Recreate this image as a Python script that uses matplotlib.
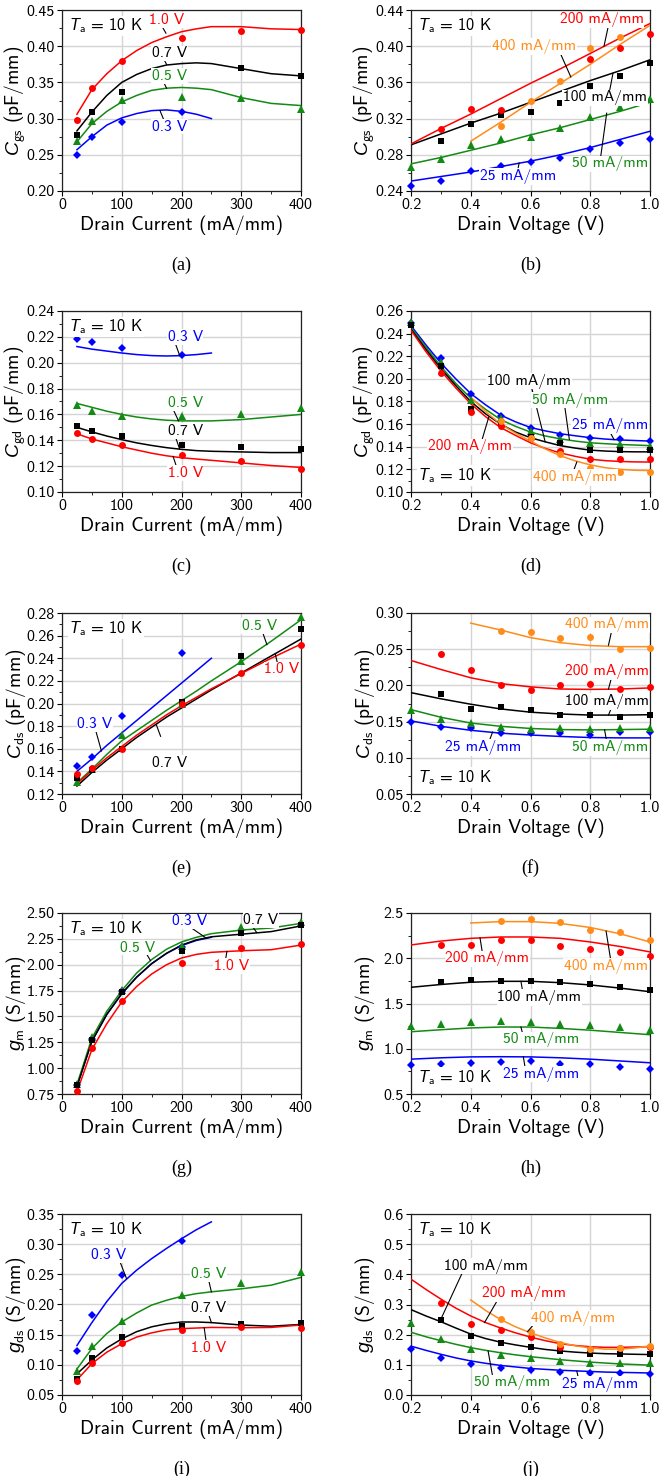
import numpy as np
import matplotlib
matplotlib.use('Agg')
import matplotlib.pyplot as plt
from matplotlib.ticker import MultipleLocator, AutoMinorLocator, FormatStrFormatter

# Computer Modern sans for text, sans italic for the symbols
plt.rcParams['font.family'] = 'cmss10'
plt.rcParams['mathtext.fontset'] = 'custom'
plt.rcParams['mathtext.rm'] = 'cmss10'
plt.rcParams['mathtext.it'] = 'Liberation Sans:italic'
plt.rcParams['axes.formatter.use_mathtext'] = True
plt.rcParams['axes.unicode_minus'] = False

RED = '#ff0000'
BLACK = '#000000'
GREEN = '#138a13'
BLUE = '#0000ff'
ORANGE = '#ff8c1a'

# ---------------- measured points ----------------
# drain current sweeps (mA/mm); 0.3 V only goes to 200 mA/mm
I_pts = [25, 50, 100, 200, 300, 400]
# drain voltage sweeps (V)
V_pts = [0.2, 0.3, 0.4, 0.5, 0.6, 0.7, 0.8, 0.9, 1.0]
nan = np.nan

# (a) Cgs vs current
a_03 = [0.250, 0.275, 0.295, 0.309, nan, nan]
a_05 = [0.269, 0.297, 0.326, 0.330, 0.328, 0.313]
a_07 = [0.277, 0.309, 0.337, nan, 0.370, 0.359]
a_10 = [0.298, 0.342, 0.380, 0.412, 0.421, 0.422]
# (b) Cgs vs voltage
b_25 = [0.246, 0.251, 0.262, 0.268, 0.272, 0.277, 0.286, 0.293, 0.298]
b_50 = [0.267, 0.275, 0.291, 0.298, 0.300, 0.310, 0.322, 0.333, 0.342]
b_100 = [nan, 0.295, 0.314, 0.324, 0.327, 0.337, 0.356, 0.367, 0.381]
b_200 = [nan, 0.309, 0.331, 0.330, nan, nan, 0.386, 0.398, 0.413]
b_400 = [nan, nan, nan, 0.312, 0.339, 0.361, 0.398, 0.410, nan]
# (c) Cgd vs current
c_03 = [0.2186, 0.216, 0.211, 0.206, nan, nan]
c_05 = [0.1674, 0.163, 0.159, 0.159, 0.160, 0.165]
c_07 = [0.151, 0.147, 0.143, 0.136, 0.135, 0.133]
c_10 = [0.146, 0.141, 0.136, 0.129, 0.124, 0.118]
# (d) Cgd vs voltage
d_25 = [0.2496, 0.2185, 0.1864, 0.1668, 0.1564, 0.1505, 0.1478, 0.1467, 0.1452]
d_50 = [0.250, 0.215, 0.181, 0.165, 0.154, 0.147, 0.143, 0.142, 0.141]
d_100 = [0.248, 0.211, 0.173, 0.161, 0.149, 0.143, 0.137, 0.137, 0.137]
d_200 = [nan, 0.2055, 0.1704, 0.158, 0.148, 0.136, 0.129, 0.129, 0.129]
d_400 = [nan, nan, nan, 0.1624, 0.148, 0.134, 0.121, 0.118, 0.118]
# (e) Cds vs current
e_03 = [0.1444, 0.1525, 0.1887, 0.2447, nan, nan]
e_05 = [0.131, 0.142, 0.172, 0.200, 0.2378, 0.2761]
e_07 = [0.134, 0.141, 0.160, 0.2013, 0.242, 0.2656]
e_10 = [0.1375, 0.1434, 0.1594, 0.1992, 0.2267, 0.2519]
# (f) Cds vs voltage
f_25 = [0.150, 0.1431, 0.1407, 0.1347, 0.1337, 0.1337, 0.1314, 0.1361, 0.1361]
f_50 = [0.1665, 0.1534, 0.1478, 0.1422, 0.1398, 0.1407, 0.1398, 0.1407, 0.1417]
f_100 = [nan, 0.1876, 0.1679, 0.1707, 0.1665, 0.1585, 0.1595, 0.1562, 0.1585]
f_200 = [nan, 0.2438, 0.2213, 0.2002, 0.1932, 0.2002, 0.2016, 0.1946, 0.1979]
f_400 = [nan, nan, nan, 0.2756, 0.2733, 0.2658, 0.2672, 0.2499, 0.2518]
# (g) gm vs current
g_03 = [0.84, 1.28, 1.75, 2.167, nan, nan]
g_05 = [0.85, 1.303, 1.757, 2.184, 2.363, 2.409]
g_07 = [0.84, 1.271, 1.740, 2.132, 2.311, 2.386]
g_10 = [0.78, 1.196, 1.646, 2.017, 2.158, 2.197]
# (h) gm vs voltage
h_25 = [0.822, 0.830, 0.841, 0.852, 0.860, 0.833, 0.830, 0.795, 0.773]
h_50 = [1.255, 1.274, 1.300, 1.311, 1.300, 1.274, 1.266, 1.244, 1.206]
h_100 = [nan, 1.742, 1.761, 1.754, 1.750, 1.742, 1.716, 1.679, 1.649]
h_200 = [nan, 2.147, 2.147, 2.199, 2.199, 2.135, 2.098, 2.071, 2.022]
h_400 = [nan, nan, nan, 2.410, 2.436, 2.399, 2.316, 2.286, 2.204]
# (i) gds vs current
i_03 = [0.1227, 0.1831, 0.2494, 0.3058, nan, nan]
i_05 = [0.090, 0.1312, 0.1727, 0.215, 0.2357, 0.2539]
i_07 = [0.0773, 0.1117, 0.1455, 0.1636, 0.1675, 0.1688]
i_10 = [0.0727, 0.1032, 0.137, 0.1584, 0.163, 0.161]
# (j) gds vs voltage
j_25 = [0.151, 0.123, 0.103, 0.089, 0.083, 0.077, 0.074, 0.072, 0.069]
j_50 = [0.238, 0.185, 0.151, 0.134, 0.123, 0.112, 0.106, 0.106, 0.105]
j_100 = [nan, 0.250, 0.197, 0.171, 0.160, 0.145, 0.137, 0.137, 0.137]
j_200 = [nan, 0.306, 0.237, 0.215, 0.192, 0.160, 0.152, 0.157, 0.160]
j_400 = [nan, nan, nan, 0.253, 0.210, 0.168, 0.151, 0.157, 0.161]

# ---------------- fitted curves ----------------
I_fit = [25, 50, 75, 100, 125, 150, 175, 200, 225, 250, 300, 350, 400]
V_fit = [0.2, 0.3, 0.4, 0.5, 0.6, 0.7, 0.8, 0.9, 1.0]
V_fit2 = [0.2, 0.25, 0.3, 0.35, 0.4, 0.45, 0.5, 0.55, 0.6, 0.65, 0.7,
          0.75, 0.8, 0.85, 0.9, 0.95, 1.0]

a_03_fit = [0.257, 0.275, 0.291, 0.301, 0.307, 0.311, 0.312, 0.310, 0.306, 0.300, nan, nan, nan]
a_05_fit = [0.268, 0.293, 0.310, 0.323, 0.332, 0.339, 0.342, 0.343, 0.342, 0.340, 0.329, 0.321, 0.318]
a_07_fit = [0.283, 0.309, 0.332, 0.350, 0.361, 0.369, 0.374, 0.376, 0.377, 0.376, 0.369, 0.362, 0.359]
a_10_fit = [0.306, 0.340, 0.362, 0.380, 0.394, 0.405, 0.413, 0.420, 0.424, 0.427, 0.427, 0.424, 0.423]

b_25_fit = [0.251, 0.256, 0.261, 0.267, 0.273, 0.280, 0.288, 0.297, 0.306]
b_50_fit = [0.270, 0.277, 0.285, 0.293, 0.302, 0.310, 0.319, 0.328, 0.338]
b_100_fit = [0.291, 0.303, 0.315, 0.326, 0.338, 0.350, 0.362, 0.373, 0.385]
b_200_fit = [0.292, 0.309, 0.325, 0.342, 0.359, 0.375, 0.392, 0.409, 0.425]
b_400_fit = [nan, nan, 0.295, 0.316, 0.338, 0.359, 0.380, 0.402, 0.423]

c_03_fit = [0.2125, 0.2105, 0.209, 0.2075, 0.2063, 0.2055, 0.2052, 0.2055, 0.2063, 0.2075, nan, nan, nan]
c_05_fit = [0.1685, 0.1655, 0.1625, 0.160, 0.158, 0.1565, 0.1555, 0.155, 0.155, 0.155, 0.156, 0.158, 0.160]
c_07_fit = [0.150, 0.1465, 0.1433, 0.1405, 0.138, 0.136, 0.1343, 0.133, 0.132, 0.1315, 0.131, 0.1305, 0.1305]
c_10_fit = [0.145, 0.141, 0.138, 0.135, 0.1325, 0.130, 0.128, 0.1265, 0.1255, 0.1245, 0.1225, 0.1205, 0.119]

d_25_fit = [0.247, 0.230, 0.214, 0.200, 0.187, 0.177, 0.168, 0.162, 0.157, 0.154, 0.1515,
            0.1497, 0.148, 0.1468, 0.146, 0.1455, 0.145]
d_50_fit = [0.2455, 0.228, 0.211, 0.196, 0.183, 0.173, 0.164, 0.158, 0.153, 0.1495, 0.147,
            0.145, 0.1435, 0.1427, 0.142, 0.1415, 0.141]
d_100_fit = [0.244, 0.226, 0.209, 0.194, 0.180, 0.169, 0.160, 0.153, 0.148, 0.1443, 0.141,
             0.1388, 0.137, 0.1362, 0.1357, 0.1355, 0.1355]
d_200_fit = [0.243, 0.224, 0.207, 0.192, 0.178, 0.1665, 0.157, 0.150, 0.1435, 0.1385, 0.1345,
             0.1315, 0.129, 0.1277, 0.127, 0.1266, 0.1265]
d_400_fit = [nan, nan, nan, nan, 0.184, 0.171, 0.160, 0.152, 0.145, 0.138, 0.132,
             0.1275, 0.124, 0.1215, 0.120, 0.1192, 0.119]

e_03_fit = [0.140, 0.151, 0.163, 0.174, 0.185, 0.196, 0.207, 0.218, 0.229, 0.240, nan, nan, nan]
e_05_fit = [0.130, 0.142, 0.155, 0.167, 0.176, 0.185, 0.194, 0.2025, 0.211, 0.220, 0.237, 0.255, 0.274]
e_07_fit = [0.127, 0.139, 0.150, 0.160, 0.170, 0.179, 0.188, 0.196, 0.204, 0.212, 0.227, 0.242, 0.257]
e_10_fit = [0.129, 0.141, 0.152, 0.162, 0.172, 0.181, 0.190, 0.198, 0.2055, 0.213, 0.2265, 0.240, 0.2525]

f_25_fit = [0.151, 0.1435, 0.138, 0.134, 0.1315, 0.1295, 0.128, 0.1275, 0.1275]
f_50_fit = [0.1665, 0.156, 0.148, 0.1435, 0.1405, 0.139, 0.1385, 0.139, 0.1395]
f_100_fit = [0.190, 0.1815, 0.174, 0.1675, 0.163, 0.1605, 0.159, 0.159, 0.1595]
f_200_fit = [0.2344, 0.222, 0.2105, 0.2025, 0.198, 0.195, 0.1945, 0.195, 0.1965]
f_400_fit = [nan, nan, 0.286, 0.2765, 0.266, 0.259, 0.255, 0.2535, 0.2535]

g_03_fit = [0.83, 1.26, 1.52, 1.72, 1.88, 2.01, 2.11, 2.185, 2.235, 2.265, nan, nan, nan]
g_05_fit = [0.84, 1.29, 1.55, 1.75, 1.92, 2.05, 2.15, 2.22, 2.265, 2.30, 2.335, 2.355, 2.40]
g_07_fit = [0.82, 1.26, 1.52, 1.72, 1.88, 2.01, 2.11, 2.19, 2.24, 2.27, 2.295, 2.32, 2.375]
g_10_fit = [0.77, 1.18, 1.43, 1.64, 1.79, 1.91, 2.00, 2.065, 2.10, 2.12, 2.135, 2.145, 2.19]

h_25_fit = [0.885, 0.900, 0.910, 0.912, 0.910, 0.900, 0.885, 0.865, 0.845]
h_50_fit = [1.188, 1.21, 1.23, 1.24, 1.24, 1.225, 1.205, 1.18, 1.155]
h_100_fit = [1.679, 1.71, 1.735, 1.745, 1.745, 1.73, 1.705, 1.67, 1.63]
h_200_fit = [2.147, 2.19, 2.22, 2.235, 2.235, 2.22, 2.18, 2.13, 2.07]
h_400_fit = [nan, nan, 2.39, 2.405, 2.405, 2.385, 2.34, 2.27, 2.18]

i_03_fit = [0.132, 0.170, 0.205, 0.235, 0.257, 0.276, 0.293, 0.309, 0.324, 0.337, nan, nan, nan]
i_05_fit = [0.093, 0.127, 0.152, 0.171, 0.186, 0.199, 0.207, 0.2135, 0.218, 0.221, 0.226, 0.232, 0.245]
i_07_fit = [0.085, 0.108, 0.128, 0.143, 0.155, 0.163, 0.168, 0.171, 0.171, 0.170, 0.166, 0.164, 0.167]
i_10_fit = [0.075, 0.102, 0.121, 0.135, 0.146, 0.153, 0.158, 0.160, 0.161, 0.162, 0.1615, 0.162, 0.166]

j_25_fit = [0.162, 0.148, 0.135, 0.123, 0.113, 0.105, 0.098, 0.093, 0.088, 0.085, 0.082,
            0.080, 0.078, 0.076, 0.075, 0.074, 0.073]
j_50_fit = [0.208, 0.193, 0.180, 0.168, 0.157, 0.148, 0.140, 0.133, 0.127, 0.122, 0.117,
            0.113, 0.109, 0.106, 0.103, 0.101, 0.099]
j_100_fit = [0.283, 0.262, 0.243, 0.222, 0.202, 0.187, 0.175, 0.166, 0.158, 0.151, 0.146,
             0.142, 0.139, 0.137, 0.136, 0.135, 0.134]
j_200_fit = [0.384, 0.350, 0.318, 0.288, 0.262, 0.240, 0.222, 0.206, 0.192, 0.180, 0.170,
             0.164, 0.160, 0.158, 0.158, 0.159, 0.160]
j_400_fit = [nan, nan, nan, nan, 0.315, 0.280, 0.250, 0.226, 0.206, 0.189, 0.174,
             0.163, 0.156, 0.152, 0.152, 0.156, 0.163]

# colour, marker, size per series
STY_I = [(BLUE, 'D', 4.3), (GREEN, '^', 5.2), (BLACK, 's', 4.6), (RED, 'o', 5.0)]
STY_V = [(BLUE, 'D', 4.3), (GREEN, '^', 5.2), (BLACK, 's', 4.6), (RED, 'o', 5.0), (ORANGE, 'o', 5.0)]

TICK_FS = 11.5
LABEL_FS = 14
NOTE_FS = 11.2

W, H = 660, 1476
fig = plt.figure(figsize=(W / 100, H / 100), dpi=100)
fig.patch.set_facecolor('white')

AX_W, AX_H = 239, 181
LEFTS = [62, 411]
TOPS = [10, 311, 613, 913, 1214]


def make_axes(col, row):
    left, top = LEFTS[col], TOPS[row]
    return fig.add_axes([left / W, 1 - (top + AX_H) / H, AX_W / W, AX_H / H])


def setup(ax, ylim, ystep, yfmt, ylabel, current):
    if current:
        ax.set_xlim(0, 400)
        ax.xaxis.set_major_locator(MultipleLocator(100))
        ax.xaxis.set_major_formatter(FormatStrFormatter('%d'))
        ax.set_xlabel('Drain Current (mA/mm)', fontsize=LABEL_FS, labelpad=2)
    else:
        ax.set_xlim(0.2, 1.0)
        ax.xaxis.set_major_locator(MultipleLocator(0.2))
        ax.xaxis.set_major_formatter(FormatStrFormatter('%.1f'))
        ax.set_xlabel('Drain Voltage (V)', fontsize=LABEL_FS, labelpad=2)
    ax.set_ylim(*ylim)
    ax.yaxis.set_major_locator(MultipleLocator(ystep))
    ax.yaxis.set_major_formatter(FormatStrFormatter(yfmt))
    ax.xaxis.set_minor_locator(AutoMinorLocator(2))
    ax.yaxis.set_minor_locator(AutoMinorLocator(2))
    ax.tick_params(which='both', direction='out', labelsize=TICK_FS, top=False, right=False)
    ax.tick_params(which='major', length=3.5, width=0.8, pad=1.8)
    ax.tick_params(which='minor', length=2, width=0.6)
    ax.grid(True, which='major', color='#d4d4d4', linewidth=1.0)
    ax.set_axisbelow(True)
    for sp in ax.spines.values():
        sp.set_linewidth(0.9)
        sp.set_color('#222222')
    ax.set_ylabel(ylabel, fontsize=LABEL_FS)
    # right edge of the rotated label sits just left of the tick labels
    ax.yaxis.set_label_coords(-34 / AX_W, 0.5)


def draw(ax, x_pts, series, x_fit, fits, styles):
    for y, yf, (c, m, ms) in zip(series, fits, styles):
        ax.plot(x_fit, yf, '-', color=c, linewidth=1.1, zorder=3)
        ax.plot(x_pts, y, m, color=c, markersize=ms, markeredgewidth=0, zorder=4, clip_on=False)


def label(ax, text, color, tx, ty, p0, p1):
    ax.plot([p0[0], p1[0]], [p0[1], p1[1]], '-', color='black', linewidth=0.8, zorder=5)
    ax.text(tx, ty, text, color=color, fontsize=NOTE_FS, ha='center', va='center', zorder=6,
            bbox=dict(facecolor='white', edgecolor='none', pad=0.6))


def temp(ax, bottom=False):
    if bottom:
        ax.text(0.03, 0.04, r'$T_\mathrm{a}$ = 10 K', transform=ax.transAxes, fontsize=11.8,
                ha='left', va='bottom', zorder=6,
                bbox=dict(facecolor='white', edgecolor='none', pad=0.6))
    else:
        ax.text(0.03, 0.965, r'$T_\mathrm{a}$ = 10 K', transform=ax.transAxes, fontsize=11.8,
                ha='left', va='top', zorder=6,
                bbox=dict(facecolor='white', edgecolor='none', pad=0.6))


def caption(col, row, text):
    x = (LEFTS[col] + AX_W / 2) / W
    y = 1 - (TOPS[row] + AX_H + 74) / H
    fig.text(x, y, text, family='Liberation Serif', fontsize=13, ha='center', va='center')


# (a)
ax = make_axes(0, 0)
setup(ax, (0.20, 0.45), 0.05, '%.2f', r'$C_\mathrm{gs}$ (pF/mm)', True)
draw(ax, I_pts, [a_03, a_05, a_07, a_10], I_fit, [a_03_fit, a_05_fit, a_07_fit, a_10_fit], STY_I)
label(ax, '1.0 V', RED, 175, 0.436, (167, 0.428), (174, 0.418))
label(ax, '0.7 V', BLACK, 180, 0.390, (169, 0.384), (175, 0.375))
label(ax, '0.5 V', GREEN, 180, 0.359, (169, 0.352), (175, 0.342))
label(ax, '0.3 V', BLUE, 180, 0.289, (171, 0.297), (164, 0.311))
temp(ax)
caption(0, 0, '(a)')

# (b)
ax = make_axes(1, 0)
setup(ax, (0.24, 0.44), 0.04, '%.2f', r'$C_\mathrm{gs}$ (pF/mm)', False)
draw(ax, V_pts, [b_25, b_50, b_100, b_200, b_400], V_fit,
     [b_25_fit, b_50_fit, b_100_fit, b_200_fit, b_400_fit], STY_V)
label(ax, '200 mA/mm', RED, 0.838, 0.429, (0.861, 0.423), (0.846, 0.400))
label(ax, '400 mA/mm', ORANGE, 0.612, 0.3995, (0.70, 0.392), (0.735, 0.366))
label(ax, '100 mA/mm', BLACK, 0.85, 0.343, (0.865, 0.351), (0.876, 0.370))
label(ax, '50 mA/mm', GREEN, 0.866, 0.270, (0.835, 0.278), (0.855, 0.326))
label(ax, '25 mA/mm', BLUE, 0.559, 0.256, (0.556, 0.261), (0.562, 0.271))
temp(ax)
caption(1, 0, '(b)')

# (c)
ax = make_axes(0, 1)
setup(ax, (0.10, 0.24), 0.02, '%.2f', r'$C_\mathrm{gd}$ (pF/mm)', True)
draw(ax, I_pts, [c_03, c_05, c_07, c_10], I_fit, [c_03_fit, c_05_fit, c_07_fit, c_10_fit], STY_I)
label(ax, '0.3 V', BLUE, 206, 0.220, (190, 0.2145), (197, 0.2055))
label(ax, '0.5 V', GREEN, 206, 0.1685, (187, 0.163), (195, 0.155))
label(ax, '0.7 V', BLACK, 206, 0.147, (190, 0.1425), (197, 0.133))
label(ax, '1.0 V', RED, 206, 0.1147, (192, 0.119), (186, 0.1275))
temp(ax)
caption(0, 1, '(c)')

# (d)
ax = make_axes(1, 1)
setup(ax, (0.10, 0.26), 0.02, '%.2f', r'$C_\mathrm{gd}$ (pF/mm)', False)
draw(ax, V_pts, [d_25, d_50, d_100, d_200, d_400], V_fit2,
     [d_25_fit, d_50_fit, d_100_fit, d_200_fit, d_400_fit], STY_V)
label(ax, '100 mA/mm', BLACK, 0.595, 0.198, (0.604, 0.192), (0.649, 0.1445))
label(ax, '50 mA/mm', GREEN, 0.732, 0.1813, (0.715, 0.175), (0.73, 0.1465))
label(ax, '25 mA/mm', BLUE, 0.866, 0.159, (0.866, 0.153), (0.88, 0.1462))
label(ax, '200 mA/mm', RED, 0.398, 0.1398, (0.436, 0.1446), (0.46, 0.166))
label(ax, '400 mA/mm', ORANGE, 0.749, 0.1126, (0.743, 0.118), (0.755, 0.1265))
temp(ax, bottom=True)
caption(1, 1, '(d)')

# (e)
ax = make_axes(0, 2)
setup(ax, (0.12, 0.28), 0.02, '%.2f', r'$C_\mathrm{ds}$ (pF/mm)', True)
draw(ax, I_pts, [e_03, e_05, e_07, e_10], I_fit, [e_03_fit, e_05_fit, e_07_fit, e_10_fit], STY_I)
label(ax, '0.3 V', BLUE, 55, 0.1818, (57, 0.175), (66, 0.158))
label(ax, '0.7 V', BLACK, 180, 0.1477, (165, 0.171), (158, 0.181))
label(ax, '0.5 V', GREEN, 331, 0.2686, (337, 0.261), (343, 0.252))
label(ax, '1.0 V', RED, 368, 0.2302, (360, 0.237), (357, 0.2435))
temp(ax)
caption(0, 2, '(e)')

# (f)
ax = make_axes(1, 2)
setup(ax, (0.05, 0.30), 0.05, '%.2f', r'$C_\mathrm{ds}$ (pF/mm)', False)
draw(ax, V_pts, [f_25, f_50, f_100, f_200, f_400], V_fit,
     [f_25_fit, f_50_fit, f_100_fit, f_200_fit, f_400_fit], STY_V)
label(ax, '400 mA/mm', ORANGE, 0.855, 0.2836, (0.872, 0.276), (0.861, 0.2555))
label(ax, '200 mA/mm', RED, 0.855, 0.2194, (0.872, 0.212), (0.861, 0.195))
label(ax, '100 mA/mm', BLACK, 0.855, 0.178, (0.872, 0.170), (0.861, 0.159))
label(ax, '50 mA/mm', GREEN, 0.866, 0.114, (0.855, 0.122), (0.848, 0.1387))
label(ax, '25 mA/mm', BLUE, 0.442, 0.114, (0.46, 0.121), (0.473, 0.1355))
temp(ax, bottom=True)
caption(1, 2, '(f)')

# (g)
ax = make_axes(0, 3)
setup(ax, (0.75, 2.50), 0.25, '%.2f', r'$g_\mathrm{m}$ (S/mm)', True)
draw(ax, I_pts, [g_03, g_05, g_07, g_10], I_fit, [g_03_fit, g_05_fit, g_07_fit, g_10_fit], STY_I)
label(ax, '0.3 V', BLUE, 213, 2.418, (218, 2.35), (242, 2.255))
label(ax, '0.7 V', BLACK, 333, 2.43, (320, 2.36), (326, 2.31))
label(ax, '0.5 V', GREEN, 127, 2.166, (142, 2.10), (148, 2.04))
label(ax, '1.0 V', RED, 284, 1.985, (274, 2.06), (276, 2.128))
temp(ax)
caption(0, 3, '(g)')

# (h)
ax = make_axes(1, 3)
setup(ax, (0.5, 2.5), 0.5, '%.1f', r'$g_\mathrm{m}$ (S/mm)', False)
draw(ax, V_pts, [h_25, h_50, h_100, h_200, h_400], V_fit,
     [h_25_fit, h_50_fit, h_100_fit, h_200_fit, h_400_fit], STY_V)
label(ax, '200 mA/mm', RED, 0.456, 1.994, (0.431, 2.225), (0.439, 2.06))
label(ax, '400 mA/mm', ORANGE, 0.853, 1.911, (0.853, 2.30), (0.868, 1.99))
label(ax, '100 mA/mm', BLACK, 0.63, 1.566, (0.568, 1.745), (0.574, 1.63))
label(ax, '50 mA/mm', GREEN, 0.634, 1.098, (0.568, 1.24), (0.574, 1.16))
label(ax, '25 mA/mm', BLUE, 0.634, 0.72, (0.576, 0.911), (0.582, 0.79))
temp(ax, bottom=True)
caption(1, 3, '(h)')

# (i)
ax = make_axes(0, 4)
setup(ax, (0.05, 0.35), 0.05, '%.2f', r'$g_\mathrm{ds}$ (S/mm)', True)
draw(ax, I_pts, [i_03, i_05, i_07, i_10], I_fit, [i_03_fit, i_05_fit, i_07_fit, i_10_fit], STY_I)
label(ax, '0.3 V', BLUE, 77.5, 0.2818, (97, 0.271), (108, 0.243))
label(ax, '0.5 V', GREEN, 245, 0.2506, (246, 0.238), (250, 0.221))
label(ax, '0.7 V', BLACK, 245, 0.1942, (246, 0.182), (250, 0.170))
label(ax, '1.0 V', RED, 246, 0.128, (238, 0.1613), (241, 0.14))
temp(ax)
caption(0, 4, '(i)')

# (j)
ax = make_axes(1, 4)
setup(ax, (0.0, 0.6), 0.1, '%.1f', r'$g_\mathrm{ds}$ (S/mm)', False)
draw(ax, V_pts, [j_25, j_50, j_100, j_200, j_400], V_fit2,
     [j_25_fit, j_50_fit, j_100_fit, j_200_fit, j_400_fit], STY_V)
label(ax, '100 mA/mm', BLACK, 0.451, 0.427, (0.373, 0.408), (0.297, 0.245))
label(ax, '200 mA/mm', RED, 0.578, 0.335, (0.487, 0.31), (0.446, 0.240))
label(ax, '400 mA/mm', ORANGE, 0.744, 0.255, (0.61, 0.233), (0.59, 0.210))
label(ax, '50 mA/mm', GREEN, 0.537, 0.04, (0.458, 0.146), (0.473, 0.063))
label(ax, '25 mA/mm', BLUE, 0.833, 0.034, (0.755, 0.079), (0.76, 0.057))
temp(ax)
caption(1, 4, '(j)')

fig.savefig('out.png', dpi=100)
